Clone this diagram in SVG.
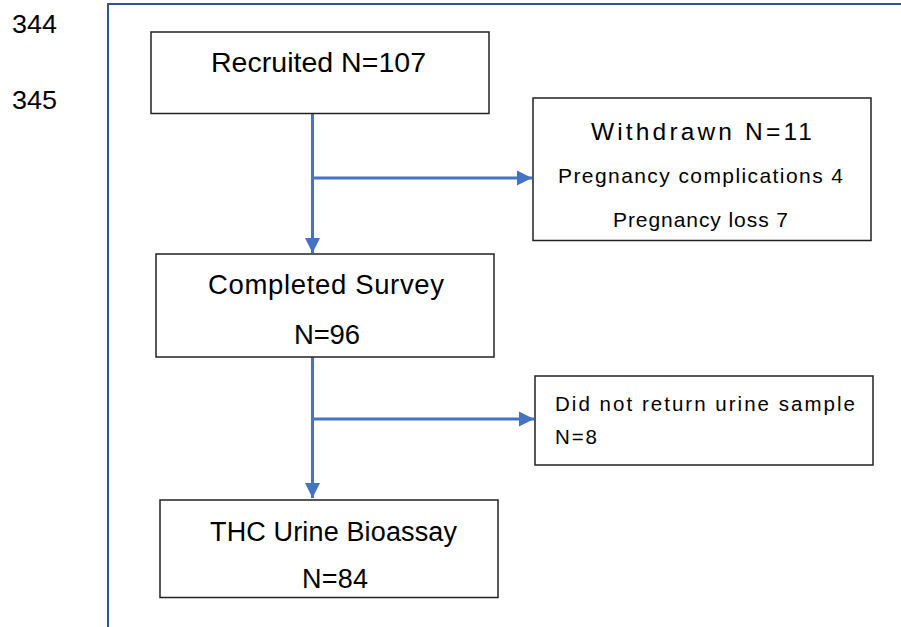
<svg xmlns="http://www.w3.org/2000/svg" width="901" height="627" viewBox="0 0 901 627">
<style>
text{font-family:"Liberation Sans",Arial,sans-serif;fill:#000}
.box{fill:#fff;stroke:#222;stroke-width:1.5}
.frame{stroke:#2f5597;stroke-width:2;fill:none}
.conn{stroke:#4472c4;stroke-width:3;fill:none}
</style>
<defs>
<marker id="ah" markerUnits="userSpaceOnUse" markerWidth="16" markerHeight="16" refX="15" refY="8" orient="auto">
<path d="M0,0.5 L15,8 L0,15.5 z" fill="#4472c4"/>
</marker>
</defs>
<rect width="901" height="627" fill="#fff"/>
<g id="line-numbers">
<text x="12" y="33" font-size="25" textLength="45" lengthAdjust="spacingAndGlyphs">344</text>
<text x="12" y="109" font-size="25" textLength="45" lengthAdjust="spacingAndGlyphs">345</text>
</g>
<path class="frame" d="M108,627 V4 H901"/>
<g id="connectors">
<line class="conn" x1="312.5" y1="114" x2="312.5" y2="253" marker-end="url(#ah)"/>
<line class="conn" x1="312.5" y1="178" x2="532" y2="178" marker-end="url(#ah)"/>
<line class="conn" x1="312.5" y1="357" x2="312.5" y2="498" marker-end="url(#ah)"/>
<line class="conn" x1="312.5" y1="419" x2="534" y2="419" marker-end="url(#ah)"/>
</g>
<g id="recruited">
<rect class="box" x="151" y="32" width="338" height="81.5"/>
<text x="211" y="71.5" font-size="28.5" textLength="215">Recruited N=107</text>
</g>
<g id="withdrawn">
<rect class="box" x="533" y="98" width="338" height="142.5"/>
<text x="591" y="139.5" font-size="24.5" textLength="221">Withdrawn N=11</text>
<text x="558" y="183" font-size="21" textLength="285">Pregnancy complications 4</text>
<text x="613" y="227" font-size="21" textLength="175">Pregnancy loss 7</text>
</g>
<g id="completed">
<rect class="box" x="156" y="254" width="338" height="103"/>
<text x="208" y="294" font-size="27.5" textLength="236">Completed Survey</text>
<text x="294" y="344" font-size="27.5" textLength="66">N=96</text>
</g>
<g id="no-urine">
<rect class="box" x="535" y="376" width="338" height="89"/>
<text x="555" y="411" font-size="20.5" textLength="300">Did not return urine sample</text>
<text x="555" y="444" font-size="20.5" textLength="42">N=8</text>
</g>
<g id="thc">
<rect class="box" x="160" y="500" width="338" height="97.5"/>
<text x="210" y="541" font-size="27" textLength="247">THC Urine Bioassay</text>
<text x="302" y="588" font-size="27" textLength="66">N=84</text>
</g>
</svg>
